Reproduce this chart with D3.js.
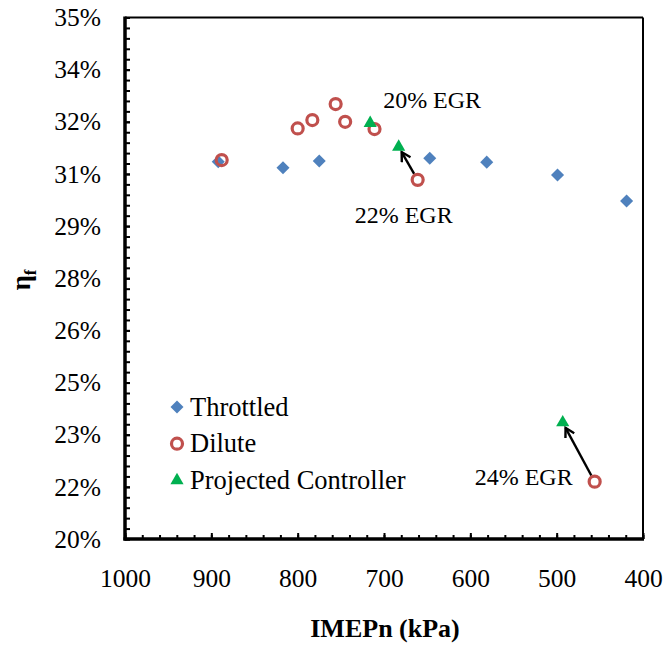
<!DOCTYPE html>
<html><head><meta charset="utf-8">
<script src="https://cdn.jsdelivr.net/npm/d3@7"></script>
<style>
html,body{margin:0;padding:0;background:#fff;}
svg{display:block;}
</style></head>
<body>
<svg id="chart" width="665" height="645"></svg>
<script>
// ---- data ----
const throttledX = [892, 817, 775, 647, 581, 499, 419];
const throttledY = [0.3085, 0.3068, 0.3087, 0.3095, 0.3084, 0.3047, 0.2972];
const diluteX = [888, 800, 783, 756, 745, 711, 661, 456];
const diluteY = [0.3090, 0.3181, 0.3205, 0.3251, 0.3200, 0.3179, 0.3033, 0.2165];
const projectedX = [716, 683, 493];
const projectedY = [0.3196, 0.3128, 0.2335];
// arrows: from dilute index -> projected index
const arrowFrom = [6, 7];
const arrowTo = [1, 2];
const annotationText = ["20% EGR", "22% EGR", "24% EGR"];
const annotationX = [701, 734, 595];
const annotationY = [0.3240, 0.2909, 0.2155];
const seriesNames = ["Throttled", "Dilute", "Projected Controller"];
const xTickValues = [1000, 900, 800, 700, 600, 500, 400];
const xTickLabels = ["1000", "900", "800", "700", "600", "500", "400"];
const yTickLabels = ["20%", "22%", "23%", "25%", "26%", "28%", "29%", "31%", "32%", "34%", "35%"];

// ---- layout ----
const FONT = '"Liberation Serif", "Times New Roman", Times, serif';
const svg = d3.select("#chart");
const L = 125, R = 643, T = 17.5, B = 539;
const x = d3.scaleLinear().domain([1000, 400]).range([L, R]);
const y = d3.scaleLinear().domain([0.20, 0.35]).range([B, T]);
const yTickValues = yTickLabels.map((d, i) => 0.20 + i * 0.015);
const yMinor = d3.range(0, 51).map(i => 0.20 + i * 0.003);
const xMinor = d3.range(0, 31).map(i => 1000 - i * 20);

const colors = {Throttled: "#4F81BD", Dilute: "#C0504D", Projected: "#00B050"};

// frame top/right
svg.append("line").attr("x1", L).attr("x2", R).attr("y1", T).attr("y2", T)
  .attr("stroke", "#000").attr("stroke-width", 2);
svg.append("line").attr("x1", R).attr("x2", R).attr("y1", T).attr("y2", B)
  .attr("stroke", "#000").attr("stroke-width", 2);

// minor ticks y
const gyMinor = svg.append("g").attr("transform", `translate(${L},0)`)
  .call(d3.axisLeft(y).tickValues(yMinor).tickSize(-5).tickFormat(""));
gyMinor.select(".domain").remove();
gyMinor.selectAll("line").attr("stroke", "#000").attr("stroke-width", 2);

// minor ticks x
const gxMinor = svg.append("g").attr("transform", `translate(0,${B})`)
  .call(d3.axisBottom(x).tickValues(xMinor).tickSize(-4).tickFormat(""));
gxMinor.select(".domain").remove();
gxMinor.selectAll("line").attr("stroke", "#000").attr("stroke-width", 2);

// y axis labels
const gy = svg.append("g").attr("transform", `translate(${L},0)`)
  .call(d3.axisLeft(y).tickValues(yTickValues).tickSize(-5).tickPadding(24)
    .tickFormat((d, i) => yTickLabels[i]));
gy.attr("font-family", null).attr("font-size", null);
gy.select(".domain").remove();
gy.selectAll("line").attr("stroke", "#000").attr("stroke-width", 2);
gy.selectAll("text").style("font-family", FONT).style("font-size", "25.5px").attr("fill", "#000");

// x axis labels
const gx = svg.append("g").attr("transform", `translate(0,${B})`)
  .call(d3.axisBottom(x).tickValues(xTickValues).tickSize(-6).tickPadding(30)
    .tickFormat((d, i) => xTickLabels[i]));
gx.attr("font-family", null).attr("font-size", null);
gx.select(".domain").remove();
gx.selectAll("line").attr("stroke", "#000").attr("stroke-width", 2);
gx.selectAll("text").style("font-family", FONT).style("font-size", "25.5px").attr("fill", "#000");

// thick left & bottom axes
svg.append("line").attr("x1", L).attr("x2", L).attr("y1", T - 1).attr("y2", B + 1.5)
  .attr("stroke", "#000").attr("stroke-width", 3.5);
svg.append("line").attr("x1", L - 1.5).attr("x2", R + 1).attr("y1", B).attr("y2", B)
  .attr("stroke", "#000").attr("stroke-width", 3.5);

// arrows
const defs = svg.append("defs");
defs.append("marker").attr("id", "arr").attr("viewBox", "0 0 12 12")
  .attr("refX", 10).attr("refY", 6).attr("markerWidth", 12).attr("markerHeight", 12)
  .attr("markerUnits", "userSpaceOnUse").attr("orient", "auto")
  .append("path").attr("d", "M1,1 L10,6 L1,11").attr("fill", "none")
  .attr("stroke", "#000").attr("stroke-width", 2.4);

arrowFrom.forEach((fi, k) => {
  const ti = arrowTo[k];
  const x1 = x(diluteX[fi]), y1 = y(diluteY[fi]);
  const x2 = x(projectedX[ti]), y2 = y(projectedY[ti]);
  const dx = x2 - x1, dy = y2 - y1, len = Math.hypot(dx, dy);
  const s1 = 7, s2 = 6;
  svg.append("line")
    .attr("x1", x1 + dx / len * s1).attr("y1", y1 + dy / len * s1)
    .attr("x2", x2 - dx / len * s2).attr("y2", y2 - dy / len * s2)
    .attr("stroke", "#000").attr("stroke-width", 2.4)
    .attr("marker-end", "url(#arr)");
});

// series
const tri = d3.symbol().type(d3.symbolTriangle).size(75);
const dia = d3.symbol().type(d3.symbolSquare).size(85);

svg.append("g").selectAll("path").data(throttledX).join("path")
  .attr("d", dia)
  .attr("transform", (d, i) => `translate(${x(d)},${y(throttledY[i])}) rotate(45)`)
  .attr("fill", colors.Throttled);

svg.append("g").selectAll("circle").data(diluteX).join("circle")
  .attr("cx", d => x(d)).attr("cy", (d, i) => y(diluteY[i])).attr("r", 5.5)
  .attr("fill", "none").attr("stroke", colors.Dilute).attr("stroke-width", 3.2);

svg.append("g").selectAll("path").data(projectedX).join("path")
  .attr("d", tri)
  .attr("transform", (d, i) => `translate(${x(d)},${y(projectedY[i])})`)
  .attr("fill", colors.Projected);

// annotations
svg.append("g").selectAll("text").data(annotationText).join("text")
  .attr("x", (d, i) => x(annotationX[i])).attr("y", (d, i) => y(annotationY[i]))
  .style("font-family", FONT).style("font-size", "24px").text(d => d);

// legend
const lg = svg.append("g").attr("transform", "translate(177,407)");
const rowH = 36.7;
lg.append("path").attr("d", dia)
  .attr("transform", "translate(0,0) rotate(45)").attr("fill", colors.Throttled);
lg.append("circle").attr("cx", 0).attr("cy", rowH).attr("r", 5.5)
  .attr("fill", "none").attr("stroke", colors.Dilute).attr("stroke-width", 3.2);
lg.append("path").attr("d", tri).attr("transform", `translate(0,${2 * rowH})`)
  .attr("fill", colors.Projected);
lg.selectAll("text.lg").data(seriesNames).join("text").attr("class", "lg")
  .attr("x", 13).attr("y", (d, i) => i * rowH + 8.5)
  .style("font-family", FONT).style("font-size", "26.5px").text(d => d);

// axis titles
svg.append("text").attr("x", 385).attr("y", 637).attr("text-anchor", "middle")
  .style("font-family", FONT).style("font-size", "26px").style("font-weight", "bold")
  .text("IMEPn (kPa)");
const yt = svg.append("text").attr("transform", "translate(30,280) rotate(-90)")
  .attr("text-anchor", "middle")
  .style("font-family", FONT).style("font-size", "27px").style("font-weight", "bold");
yt.append("tspan").text("η");
yt.append("tspan").style("font-size", "17px").attr("dy", 6).text("f");
</script>
</body></html>
